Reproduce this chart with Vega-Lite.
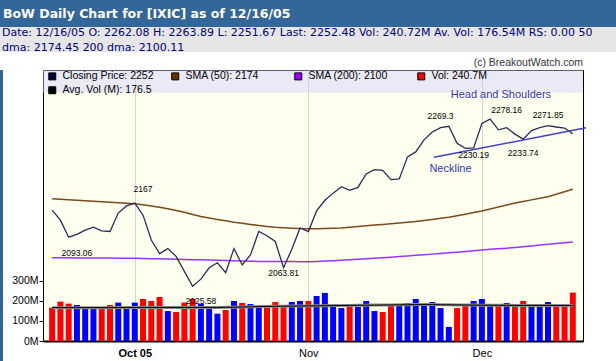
{
  "$schema": "https://vega.github.io/schema/vega-lite/v6.json",
  "padding": 0,
  "background": "#ffffff",
  "spacing": 0,
  "bounds": "full",
  "config": {"font": "Liberation Sans", "view": {"stroke": null}},
  "datasets": {
    "d": [
      {"i": 0, "d": "2005-09-19", "close": 2145, "sma50": 2161, "sma200": 2078.2, "vol": 166, "avg": 166, "dir": "down"},
      {"i": 1, "d": "2005-09-20", "close": 2131, "sma50": 2160.4, "sma200": 2078.1, "vol": 196, "avg": 166, "dir": "down"},
      {"i": 2, "d": "2005-09-21", "close": 2107, "sma50": 2159.7, "sma200": 2078.0, "vol": 186, "avg": 166, "dir": "down"},
      {"i": 3, "d": "2005-09-22", "close": 2111, "sma50": 2159, "sma200": 2077.9, "vol": 179, "avg": 166, "dir": "up"},
      {"i": 4, "d": "2005-09-23", "close": 2117, "sma50": 2158.3, "sma200": 2077.9, "vol": 169, "avg": 166, "dir": "up"},
      {"i": 5, "d": "2005-09-26", "close": 2121, "sma50": 2157.6, "sma200": 2077.8, "vol": 161, "avg": 166, "dir": "up"},
      {"i": 6, "d": "2005-09-27", "close": 2116, "sma50": 2157, "sma200": 2077.7, "vol": 169, "avg": 166, "dir": "down"},
      {"i": 7, "d": "2005-09-28", "close": 2115, "sma50": 2156.2, "sma200": 2077.6, "vol": 179, "avg": 166, "dir": "down"},
      {"i": 8, "d": "2005-09-29", "close": 2141, "sma50": 2155.5, "sma200": 2077.5, "vol": 191, "avg": 166.5, "dir": "up"},
      {"i": 9, "d": "2005-09-30", "close": 2151, "sma50": 2154.8, "sma200": 2077.5, "vol": 169, "avg": 166.5, "dir": "up"},
      {"i": 10, "d": "2005-10-03", "close": 2155, "sma50": 2154, "sma200": 2077.4, "vol": 191, "avg": 166.5, "dir": "up"},
      {"i": 11, "d": "2005-10-04", "close": 2138, "sma50": 2152.5, "sma200": 2077.1, "vol": 209, "avg": 167, "dir": "down"},
      {"i": 12, "d": "2005-10-05", "close": 2103, "sma50": 2150.8, "sma200": 2076.8, "vol": 199, "avg": 167, "dir": "down"},
      {"i": 13, "d": "2005-10-06", "close": 2084, "sma50": 2149, "sma200": 2076.6, "vol": 219, "avg": 167, "dir": "down"},
      {"i": 14, "d": "2005-10-07", "close": 2091, "sma50": 2147, "sma200": 2076.3, "vol": 149, "avg": 167, "dir": "up"},
      {"i": 15, "d": "2005-10-10", "close": 2080, "sma50": 2144.5, "sma200": 2076.0, "vol": 144, "avg": 167, "dir": "down"},
      {"i": 16, "d": "2005-10-11", "close": 2059, "sma50": 2142, "sma200": 2075.7, "vol": 191, "avg": 167, "dir": "down"},
      {"i": 17, "d": "2005-10-12", "close": 2038, "sma50": 2139, "sma200": 2075.4, "vol": 209, "avg": 167, "dir": "down"},
      {"i": 18, "d": "2005-10-13", "close": 2048, "sma50": 2136, "sma200": 2075.2, "vol": 184, "avg": 167, "dir": "up"},
      {"i": 19, "d": "2005-10-14", "close": 2064, "sma50": 2134, "sma200": 2074.9, "vol": 159, "avg": 167, "dir": "up"},
      {"i": 20, "d": "2005-10-17", "close": 2071, "sma50": 2132, "sma200": 2074.6, "vol": 136, "avg": 167, "dir": "up"},
      {"i": 21, "d": "2005-10-18", "close": 2057, "sma50": 2130, "sma200": 2074.2, "vol": 154, "avg": 167.5, "dir": "down"},
      {"i": 22, "d": "2005-10-19", "close": 2091, "sma50": 2128, "sma200": 2073.8, "vol": 199, "avg": 168, "dir": "up"},
      {"i": 23, "d": "2005-10-20", "close": 2068, "sma50": 2126.5, "sma200": 2073.5, "vol": 189, "avg": 169, "dir": "down"},
      {"i": 24, "d": "2005-10-21", "close": 2082, "sma50": 2125, "sma200": 2073.3, "vol": 184, "avg": 170, "dir": "up"},
      {"i": 25, "d": "2005-10-24", "close": 2115, "sma50": 2123.5, "sma200": 2073.0, "vol": 164, "avg": 171, "dir": "up"},
      {"i": 26, "d": "2005-10-25", "close": 2109, "sma50": 2122, "sma200": 2072.9, "vol": 169, "avg": 172, "dir": "down"},
      {"i": 27, "d": "2005-10-26", "close": 2101, "sma50": 2121, "sma200": 2072.8, "vol": 194, "avg": 172.5, "dir": "down"},
      {"i": 28, "d": "2005-10-27", "close": 2064, "sma50": 2120.3, "sma200": 2072.7, "vol": 179, "avg": 173, "dir": "down"},
      {"i": 29, "d": "2005-10-28", "close": 2090, "sma50": 2119.7, "sma200": 2072.7, "vol": 194, "avg": 173.5, "dir": "up"},
      {"i": 30, "d": "2005-10-31", "close": 2120, "sma50": 2119.2, "sma200": 2072.6, "vol": 199, "avg": 174, "dir": "up"},
      {"i": 31, "d": "2005-11-01", "close": 2115, "sma50": 2119, "sma200": 2072.6, "vol": 199, "avg": 174.5, "dir": "down"},
      {"i": 32, "d": "2005-11-02", "close": 2144, "sma50": 2119, "sma200": 2073.0, "vol": 224, "avg": 175, "dir": "up"},
      {"i": 33, "d": "2005-11-03", "close": 2159, "sma50": 2119.2, "sma200": 2073.5, "vol": 239, "avg": 175.5, "dir": "up"},
      {"i": 34, "d": "2005-11-04", "close": 2169, "sma50": 2119.5, "sma200": 2074.0, "vol": 179, "avg": 176, "dir": "up"},
      {"i": 35, "d": "2005-11-07", "close": 2178, "sma50": 2120, "sma200": 2074.5, "vol": 164, "avg": 176.5, "dir": "up"},
      {"i": 36, "d": "2005-11-08", "close": 2173, "sma50": 2121, "sma200": 2075.2, "vol": 169, "avg": 177, "dir": "down"},
      {"i": 37, "d": "2005-11-09", "close": 2177, "sma50": 2122, "sma200": 2075.9, "vol": 169, "avg": 177.5, "dir": "up"},
      {"i": 38, "d": "2005-11-10", "close": 2196, "sma50": 2123, "sma200": 2076.6, "vol": 199, "avg": 178, "dir": "up"},
      {"i": 39, "d": "2005-11-11", "close": 2202, "sma50": 2124, "sma200": 2077.3, "vol": 149, "avg": 178.5, "dir": "up"},
      {"i": 40, "d": "2005-11-14", "close": 2201, "sma50": 2125, "sma200": 2078.0, "vol": 144, "avg": 179, "dir": "down"},
      {"i": 41, "d": "2005-11-15", "close": 2188, "sma50": 2126, "sma200": 2078.9, "vol": 174, "avg": 179.5, "dir": "down"},
      {"i": 42, "d": "2005-11-16", "close": 2189, "sma50": 2127, "sma200": 2079.8, "vol": 179, "avg": 180, "dir": "up"},
      {"i": 43, "d": "2005-11-17", "close": 2220, "sma50": 2128, "sma200": 2080.6, "vol": 189, "avg": 180.5, "dir": "up"},
      {"i": 44, "d": "2005-11-18", "close": 2227, "sma50": 2129, "sma200": 2081.5, "vol": 209, "avg": 181, "dir": "up"},
      {"i": 45, "d": "2005-11-21", "close": 2244, "sma50": 2130.5, "sma200": 2082.4, "vol": 174, "avg": 181, "dir": "up"},
      {"i": 46, "d": "2005-11-22", "close": 2255, "sma50": 2132, "sma200": 2083.2, "vol": 194, "avg": 181, "dir": "up"},
      {"i": 47, "d": "2005-11-23", "close": 2261, "sma50": 2133.5, "sma200": 2084.1, "vol": 164, "avg": 180.5, "dir": "up"},
      {"i": 48, "d": "2005-11-25", "close": 2263, "sma50": 2135, "sma200": 2085.0, "vol": 70, "avg": 180, "dir": "up"},
      {"i": 49, "d": "2005-11-28", "close": 2239, "sma50": 2137.2, "sma200": 2086.0, "vol": 164, "avg": 179.5, "dir": "down"},
      {"i": 50, "d": "2005-11-29", "close": 2232, "sma50": 2139.4, "sma200": 2087.0, "vol": 184, "avg": 179, "dir": "down"},
      {"i": 51, "d": "2005-11-30", "close": 2232.5, "sma50": 2141.7, "sma200": 2088.0, "vol": 199, "avg": 178.5, "dir": "up"},
      {"i": 52, "d": "2005-12-01", "close": 2267, "sma50": 2144, "sma200": 2089.0, "vol": 209, "avg": 178, "dir": "up"},
      {"i": 53, "d": "2005-12-02", "close": 2273, "sma50": 2146.7, "sma200": 2089.9, "vol": 184, "avg": 178, "dir": "up"},
      {"i": 54, "d": "2005-12-05", "close": 2258, "sma50": 2149.5, "sma200": 2090.7, "vol": 174, "avg": 177.5, "dir": "down"},
      {"i": 55, "d": "2005-12-06", "close": 2261, "sma50": 2152.2, "sma200": 2091.6, "vol": 189, "avg": 177.5, "dir": "up"},
      {"i": 56, "d": "2005-12-07", "close": 2252, "sma50": 2155, "sma200": 2092.5, "vol": 184, "avg": 177, "dir": "down"},
      {"i": 57, "d": "2005-12-08", "close": 2245, "sma50": 2157.2, "sma200": 2093.6, "vol": 199, "avg": 177, "dir": "down"},
      {"i": 58, "d": "2005-12-09", "close": 2257, "sma50": 2159.5, "sma200": 2094.7, "vol": 174, "avg": 177, "dir": "up"},
      {"i": 59, "d": "2005-12-12", "close": 2261, "sma50": 2161.7, "sma200": 2095.9, "vol": 174, "avg": 177, "dir": "up"},
      {"i": 60, "d": "2005-12-13", "close": 2264, "sma50": 2164, "sma200": 2097.0, "vol": 194, "avg": 177, "dir": "up"},
      {"i": 61, "d": "2005-12-14", "close": 2262, "sma50": 2167.5, "sma200": 2098.0, "vol": 179, "avg": 176.5, "dir": "down"},
      {"i": 62, "d": "2005-12-15", "close": 2260.5, "sma50": 2171, "sma200": 2099.1, "vol": 184, "avg": 176.5, "dir": "down"},
      {"i": 63, "d": "2005-12-16", "close": 2252.48, "sma50": 2174.45, "sma200": 2100.11, "vol": 240.72, "avg": 176.54, "dir": "down"}
    ],
    "hi": [
      {"i": 11, "v": 2167, "t": "2167"},
      {"i": 47, "v": 2269.3, "t": "2269.3"},
      {"i": 55, "v": 2278.16, "t": "2278.16"},
      {"i": 60, "v": 2271.85, "t": "2271.85"}
    ],
    "lo": [
      {"i": 3, "v": 2093.06, "t": "2093.06"},
      {"i": 18, "v": 2025.58, "t": "2025.58"},
      {"i": 28, "v": 2063.81, "t": "2063.81"},
      {"i": 51, "v": 2230.19, "t": "2230.19"},
      {"i": 57, "v": 2233.74, "t": "2233.74"}
    ],
    "neck": [
      {"i": 46.2, "v": 2219.4},
      {"i": 64.6, "v": 2261}
    ],
    "pattern": [
      {"i": 54.3, "v": 2307, "t": "Head and Shoulders"},
      {"i": 48.2, "v": 2203, "t": "Neckline"}
    ],
    "band": [{"b1": 2310.5, "b2": 2342.2}],
    "leg": [
      {"s": "Closing Price: 2252"},
      {"s": "SMA (50): 2174"},
      {"s": "SMA (200): 2100"},
      {"s": "Vol: 240.7M"},
      {"s": "Avg. Vol (M): 176.5"}
    ]
  },
  "vconcat": [
    {
      "width": 616,
      "height": 27,
      "view": {"fill": "#336699", "stroke": null},
      "data": {"values": [{"t": "BoW Daily Chart for [IXIC] as of 12/16/05"}]},
      "mark": {"type": "text", "align": "left", "baseline": "alphabetic", "dx": 3, "dy": -9, "font": "DejaVu Sans", "fontSize": 12.5, "fontWeight": "bold", "color": "#ffffff"},
      "encoding": {"text": {"field": "t"}, "x": {"value": 0}, "y": {"value": "height"}}
    },
    {
      "width": 616,
      "height": 25,
      "view": {"fill": "#e6e6e6", "stroke": null},
      "data": {"values": [{"t": "Date: 12/16/05 O: 2262.08 H: 2263.89 L: 2251.67 Last: 2252.48 Vol: 240.72M Av. Vol: 176.54M RS: 0.00 50\ndma: 2174.45 200 dma: 2100.11"}]},
      "mark": {"type": "text", "align": "left", "baseline": "alphabetic", "lineBreak": "\n", "lineHeight": 15, "dx": 2, "dy": 9, "font": "DejaVu Sans", "fontSize": 11, "color": "#000080"},
      "encoding": {"text": {"field": "t"}, "x": {"value": 0}, "y": {"value": 0}}
    },
    {
      "spacing": 0,
      "hconcat": [
        {
          "width": 3,
          "height": 300,
          "view": {"fill": "#336699", "stroke": null},
          "data": {"values": []},
          "mark": "rule",
          "encoding": {}
        },
        {
          "width": 540,
          "height": 271,
          "view": {"fill": "#fffff0", "stroke": "#000000", "strokeWidth": 1},
          "title": {"text": ["", "(c) BreakoutWatch.com"], "anchor": "end", "frame": "group", "orient": "top", "offset": 2, "lineHeight": 4, "font": "Liberation Sans", "fontSize": 10.5, "fontWeight": "normal", "color": "#333333"},
          "resolve": {"scale": {"y": "independent", "color": "independent", "fill": "independent"}, "axis": {"y": "independent"}},
          "layer": [
            {
              "layer": [
                {
                  "data": {"name": "d"},
                  "mark": {"type": "bar", "size": 6},
                  "encoding": {
                    "x": {"field": "i", "type": "quantitative", "scale": {"domain": [-0.5, 63.63], "nice": false, "zero": false},
                      "axis": {"orient": "bottom", "values": [10, 31, 52], "labelExpr": "datum.value == 10 ? 'Oct 05' : datum.value == 31 ? 'Nov' : 'Dec'", "labelFontWeight": {"condition": {"test": "datum.value == 10", "value": "bold"}, "value": "normal"}, "labelFontSize": 11, "labelColor": "#000000", "ticks": false, "labelPadding": 6, "grid": true, "gridColor": "#d4d4d4", "domainColor": "#000000", "domainWidth": 2, "title": null}},
                    "y": {"field": "vol", "type": "quantitative", "scale": {"domain": [0, 1348], "nice": false, "zero": true},
                      "axis": {"orient": "left", "values": [0, 100, 200, 300], "labelExpr": "datum.value + 'M'", "labelFontSize": 10.5, "labelColor": "#000000", "tickSize": 4, "tickColor": "#000000", "labelPadding": 1, "grid": false, "domain": false, "minExtent": 30, "maxExtent": 30, "title": "\u00a0", "titleFontSize": 8.8, "titlePadding": 0}},
                    "color": {"field": "dir", "type": "nominal", "scale": {"domain": ["up", "down"], "range": ["#0000ff", "#ff0000"]}, "legend": null}
                  }
                },
                {
                  "data": {"name": "d"},
                  "mark": {"type": "line", "color": "#8a8a8a", "strokeWidth": 3},
                  "encoding": {
                    "x": {"field": "i", "type": "quantitative", "scale": {"domain": [-0.5, 63.63], "nice": false, "zero": false}},
                    "y": {"field": "avg", "type": "quantitative", "scale": {"domain": [0, 1348], "nice": false, "zero": true}}
                  }
                },
                {
                  "data": {"name": "d"},
                  "mark": {"type": "line", "color": "#000000", "strokeWidth": 1},
                  "encoding": {
                    "x": {"field": "i", "type": "quantitative", "scale": {"domain": [-0.5, 63.63], "nice": false, "zero": false}},
                    "y": {"field": "avg", "type": "quantitative", "scale": {"domain": [0, 1348], "nice": false, "zero": true}}
                  }
                }
              ]
            },
            {
              "layer": [
                {
                  "data": {"name": "band"},
                  "mark": {"type": "rect", "fill": "#d0d0ff", "opacity": 0.45},
                  "encoding": {
                    "x": {"value": 0},
                    "x2": {"value": "width"},
                    "y": {"field": "b1", "type": "quantitative", "scale": {"domain": [1961, 2342.2], "nice": false, "zero": false},
                      "axis": {"orient": "right", "values": [2000, 2050, 2100, 2150, 2200, 2250, 2300], "labelFontSize": 11, "labelColor": "#000000", "tickSize": 4, "tickColor": "#000000", "labelPadding": 2, "grid": true, "gridColor": "#d4d4d4", "domain": false, "title": null}},
                    "y2": {"field": "b2"}
                  }
                },
                {
                  "data": {"name": "d"},
                  "mark": {"type": "line", "color": "#7a4a1e", "strokeWidth": 1.5},
                  "encoding": {
                    "x": {"field": "i", "type": "quantitative", "scale": {"domain": [-0.5, 63.63], "nice": false, "zero": false}},
                    "y": {"field": "sma50", "type": "quantitative", "scale": {"domain": [1961, 2342.2], "nice": false, "zero": false}, "axis": null}
                  }
                },
                {
                  "data": {"name": "d"},
                  "mark": {"type": "line", "color": "#9933ff", "strokeWidth": 1.5},
                  "encoding": {
                    "x": {"field": "i", "type": "quantitative", "scale": {"domain": [-0.5, 63.63], "nice": false, "zero": false}},
                    "y": {"field": "sma200", "type": "quantitative", "scale": {"domain": [1961, 2342.2], "nice": false, "zero": false}, "axis": null}
                  }
                },
                {
                  "data": {"name": "d"},
                  "mark": {"type": "line", "color": "#2b2b5b", "strokeWidth": 1.3},
                  "encoding": {
                    "x": {"field": "i", "type": "quantitative", "scale": {"domain": [-0.5, 63.63], "nice": false, "zero": false}},
                    "y": {"field": "close", "type": "quantitative", "scale": {"domain": [1961, 2342.2], "nice": false, "zero": false}, "axis": null}
                  }
                },
                {
                  "data": {"name": "neck"},
                  "mark": {"type": "line", "color": "#4040c8", "strokeWidth": 1.5},
                  "encoding": {
                    "x": {"field": "i", "type": "quantitative", "scale": {"domain": [-0.5, 63.63], "nice": false, "zero": false}},
                    "y": {"field": "v", "type": "quantitative", "scale": {"domain": [1961, 2342.2], "nice": false, "zero": false}, "axis": null}
                  }
                },
                {
                  "data": {"name": "hi"},
                  "mark": {"type": "text", "dy": -5.5, "baseline": "middle", "align": "center", "fontSize": 8.5, "color": "#000000", "font": "Liberation Sans"},
                  "encoding": {
                    "x": {"field": "i", "type": "quantitative", "scale": {"domain": [-0.5, 63.63], "nice": false, "zero": false}},
                    "y": {"field": "v", "type": "quantitative", "scale": {"domain": [1961, 2342.2], "nice": false, "zero": false}, "axis": null},
                    "text": {"field": "t"}
                  }
                },
                {
                  "data": {"name": "lo"},
                  "mark": {"type": "text", "dy": 5.5, "baseline": "middle", "align": "center", "fontSize": 8.5, "color": "#000000", "font": "Liberation Sans"},
                  "encoding": {
                    "x": {"field": "i", "type": "quantitative", "scale": {"domain": [-0.5, 63.63], "nice": false, "zero": false}},
                    "y": {"field": "v", "type": "quantitative", "scale": {"domain": [1961, 2342.2], "nice": false, "zero": false}, "axis": null},
                    "text": {"field": "t"}
                  }
                },
                {
                  "data": {"name": "pattern"},
                  "mark": {"type": "text", "baseline": "middle", "align": "center", "fontSize": 11, "color": "#3333bb", "font": "Liberation Sans"},
                  "encoding": {
                    "x": {"field": "i", "type": "quantitative", "scale": {"domain": [-0.5, 63.63], "nice": false, "zero": false}},
                    "y": {"field": "v", "type": "quantitative", "scale": {"domain": [1961, 2342.2], "nice": false, "zero": false}, "axis": null},
                    "text": {"field": "t"}
                  }
                },
                {
                  "data": {"name": "leg"},
                  "mark": {"type": "square", "opacity": 0},
                  "encoding": {
                    "fill": {"field": "s", "type": "nominal",
                      "scale": {"domain": ["Closing Price: 2252", "SMA (50): 2174", "SMA (200): 2100", "Vol: 240.7M", "Avg. Vol (M): 176.5"], "range": ["#000040", "#663300", "#9900ff", "#ff0000", "#000000"]},
                      "legend": {"orient": "none", "legendX": 4, "legendY": 1, "direction": "horizontal", "columns": 4, "gridAlign": "all", "columnPadding": 15, "rowPadding": 2, "padding": 0, "title": null, "symbolType": "square", "symbolSize": 49, "symbolStrokeColor": "#000000", "symbolStrokeWidth": 1, "symbolOpacity": 1, "labelFontSize": 10.5, "labelFont": "Liberation Sans", "labelColor": "#000000", "labelOffset": 5, "labelLimit": 0}}
                  }
                }
              ]
            }
          ]
        }
      ]
    }
  ]
}
